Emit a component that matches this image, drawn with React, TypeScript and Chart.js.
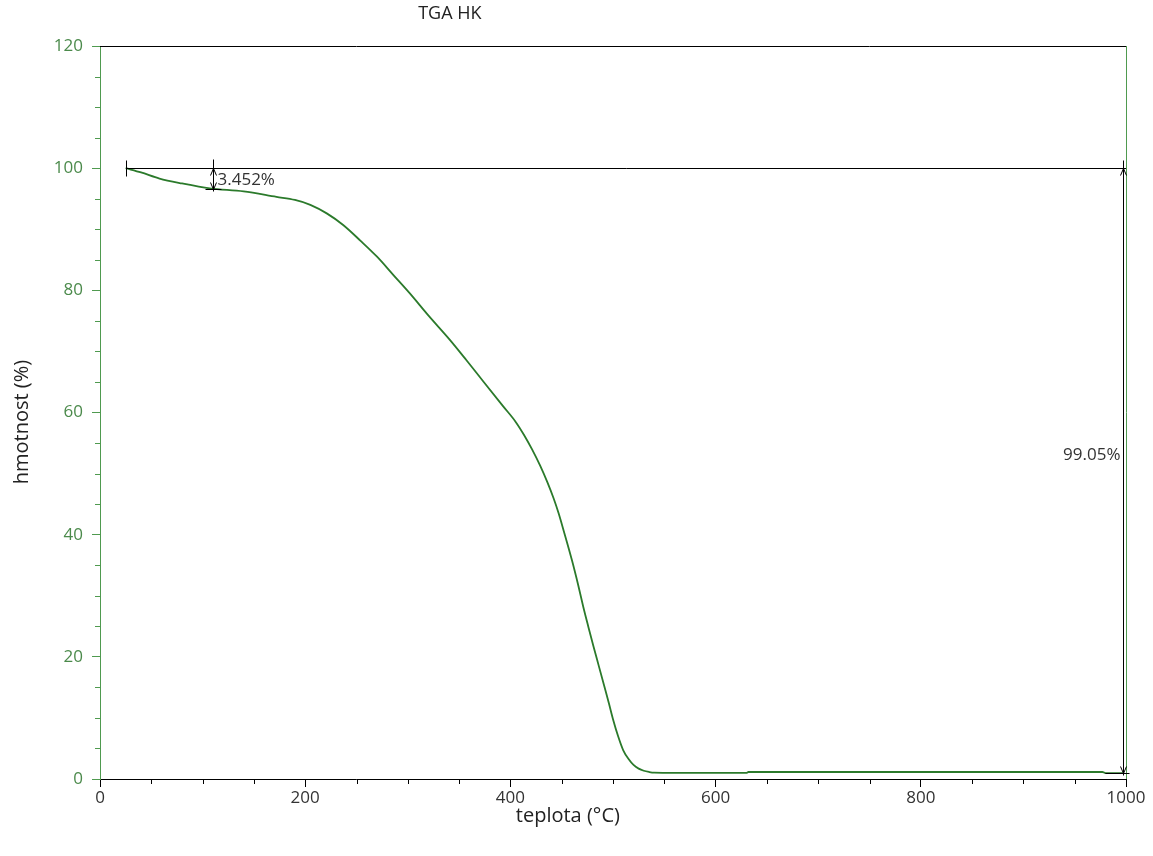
import { useEffect, useRef } from 'react';
import { Chart, registerables } from 'chart.js';

Chart.register(...registerables);

// ---- data ----
const temperatureC = [
  25, 40, 58, 80, 107, 140, 172, 190, 205, 221, 237, 254, 270, 286, 302, 320,
  341, 357, 374, 393, 405, 413, 421, 429, 436, 442, 447, 452, 460, 466, 471, 476, 481, 486, 491,
  496, 500, 505, 510, 515, 520, 525, 530, 535, 540, 560, 585, 630, 632, 700,
  800, 900, 977, 980, 997,
];
const massPct = [
  100, 99.3, 98.3, 97.5, 96.7, 96.2, 95.3, 94.8, 94.0, 92.6, 90.7, 88.1, 85.5,
  82.5, 79.5, 75.9, 71.9, 68.6, 65.0, 61.0, 58.5, 56.4, 54.0, 51.3, 48.6, 46.0,
  43.5, 40.6, 35.8, 31.8, 28.2, 24.9, 21.7, 18.6, 15.5, 12.4, 9.8, 7.0, 4.7, 3.3,
  2.3, 1.7, 1.35, 1.15, 1.03, 1.0, 1.0, 1.0, 1.15, 1.15, 1.15, 1.15, 1.15, 0.95, 0.95,
];
const xTickValues = [0, 200, 400, 600, 800, 1000];
const yTickValues = [0, 20, 40, 60, 80, 100, 120];
const xMinorStep = 50;
const yMinorStep = 5;

// step annotations
const refLevel = 100;
const refStartTemp = 25;
const step1Temp = 110;
const step1Level = 96.548;
const step1Label = '3.452%';
const step2Temp = 997;
const step2Level = 0.95;
const step2Label = '99.05%';
const step2LabelLevel = 53;

const chartTitle = 'TGA HK';
const xTitle = 'teplota (°C)';
const yTitle = 'hmotnost (%)';

const FONT = "'Open Sans', 'Noto Sans', sans-serif";
const CURVE = '#2b7a2b';
const AXIS_GREEN = '#4f9a4f';
const LABEL_GREEN = '#4b8a4b';

const overlayPlugin = {
  id: 'tgaOverlay',
  afterDatasetsDraw(chart: any) {
    const { ctx, chartArea, scales } = chart;
    const { left, right, top, bottom } = chartArea;
    const xs = scales.x;
    const ys = scales.y;
    const line = (x1: number, y1: number, x2: number, y2: number, color: string, w = 1) => {
      ctx.beginPath();
      ctx.strokeStyle = color;
      ctx.lineWidth = w;
      ctx.moveTo(x1, y1);
      ctx.lineTo(x2, y2);
      ctx.stroke();
    };
    ctx.save();
    // frame
    line(left, top + 0.5, right, top + 0.5, '#000');
    line(right + 0.5, top, right + 0.5, bottom, AXIS_GREEN);

    // minor ticks
    for (let v = 0; v <= 1000; v += xMinorStep) {
      if (xTickValues.includes(v)) continue;
      const px = Math.round(xs.getPixelForValue(v)) + 0.5;
      line(px, bottom, px, bottom + 5, '#000');
    }
    for (let v = 0; v <= 120; v += yMinorStep) {
      if (yTickValues.includes(v)) continue;
      const py = Math.round(ys.getPixelForValue(v)) + 0.5;
      line(left - 5, py, left, py, AXIS_GREEN);
    }

    // step annotations
    const yRef = Math.round(ys.getPixelForValue(refLevel)) + 0.5;
    const xStart = Math.round(xs.getPixelForValue(refStartTemp)) + 0.5;
    line(xStart, yRef, right, yRef, '#000');
    line(xStart, yRef - 8, xStart, yRef + 8, '#000');

    const x1 = Math.round(xs.getPixelForValue(step1Temp)) + 0.5;
    const y1 = Math.round(ys.getPixelForValue(step1Level)) + 0.5;
    line(x1, yRef - 9, x1, y1 + 2, '#000');
    line(x1 - 8, y1, x1 + 8, y1, '#000');
    const arrow = (x: number, y: number, dir: number) => {
      ctx.beginPath();
      ctx.strokeStyle = '#000';
      ctx.lineWidth = 1;
      ctx.moveTo(x - 3, y + dir * 7);
      ctx.lineTo(x, y);
      ctx.lineTo(x + 3, y + dir * 7);
      ctx.stroke();
    };
    arrow(x1, yRef, 1);
    arrow(x1, y1, -1);

    const x2 = Math.round(xs.getPixelForValue(step2Temp)) + 0.5;
    const y2 = Math.round(ys.getPixelForValue(step2Level)) + 0.5;
    line(x2, yRef - 8, x2, y2 + 2, '#000');
    line(x2 - 18, y2, x2 + 6, y2, '#000');
    arrow(x2, yRef, 1);
    arrow(x2, y2, -1);

    ctx.fillStyle = '#333';
    ctx.font = `17px ${FONT}`;
    ctx.textBaseline = 'middle';
    ctx.textAlign = 'left';
    ctx.fillText(step1Label, x1 + 4, ys.getPixelForValue((refLevel + step1Level) / 2) + 1);
    ctx.textAlign = 'right';
    ctx.fillText(step2Label, x2 - 3, ys.getPixelForValue(step2LabelLevel));

    // titles
    ctx.fillStyle = '#222';
    ctx.textAlign = 'center';
    ctx.font = `18px ${FONT}`;
    ctx.fillText(chartTitle, left + (right - left) * 0.341, 14);
    ctx.font = `20px ${FONT}`;
    ctx.fillText(xTitle, left + (right - left) * 0.456, bottom + 37);
    ctx.save();
    ctx.translate(22, top + (bottom - top) * 0.513);
    ctx.rotate(-Math.PI / 2);
    ctx.fillText(yTitle, 0, 0);
    ctx.restore();
    ctx.restore();
  },
};

export default function App() {
  const ref = useRef<HTMLCanvasElement | null>(null);
  useEffect(() => {
    document.body.style.margin = '0';
    const canvas = ref.current;
    if (!canvas) return;
    const points = temperatureC.map((t, i) => ({ x: t, y: massPct[i] }));
    const chart = new Chart(canvas, {
      type: 'line',
      data: {
        datasets: [
          {
            data: points,
            borderColor: CURVE,
            borderWidth: 1.8,
            pointRadius: 0,
            cubicInterpolationMode: 'monotone',
            fill: false,
          },
        ],
      },
      options: {
        animation: false,
        responsive: false,
        maintainAspectRatio: false,
        layout: { padding: { left: 0, top: 46, right: 27, bottom: 0 } },
        plugins: { legend: { display: false }, tooltip: { enabled: false }, title: { display: false } },
        scales: {
          x: {
            type: 'linear',
            min: 0,
            max: 1000,
            afterBuildTicks: (s: any) => {
              s.ticks = xTickValues.map((v) => ({ value: v }));
            },
            afterFit: (s: any) => {
              s.height = 77;
            },
            ticks: {
              color: '#333',
              font: { family: FONT, size: 17 },
              padding: 1,
              maxRotation: 0,
              callback: (v: any) => String(v),
            },
            grid: { drawOnChartArea: false, drawTicks: true, tickLength: 8, tickColor: '#000' },
            border: { color: '#000', width: 1 },
          },
          y: {
            type: 'linear',
            min: 0,
            max: 120,
            afterBuildTicks: (s: any) => {
              s.ticks = yTickValues.map((v) => ({ value: v }));
            },
            afterFit: (s: any) => {
              s.width = 100;
            },
            ticks: {
              color: LABEL_GREEN,
              font: { family: FONT, size: 17 },
              padding: 9,
              callback: (v: any) => String(v),
            },
            grid: { drawOnChartArea: false, drawTicks: true, tickLength: 8, tickColor: AXIS_GREEN },
            border: { color: AXIS_GREEN, width: 1 },
          },
        },
      },
      plugins: [overlayPlugin],
    });
    return () => chart.destroy();
  }, []);
  return <canvas ref={ref} width={1153} height={856} style={{ display: 'block' }} />;
}
